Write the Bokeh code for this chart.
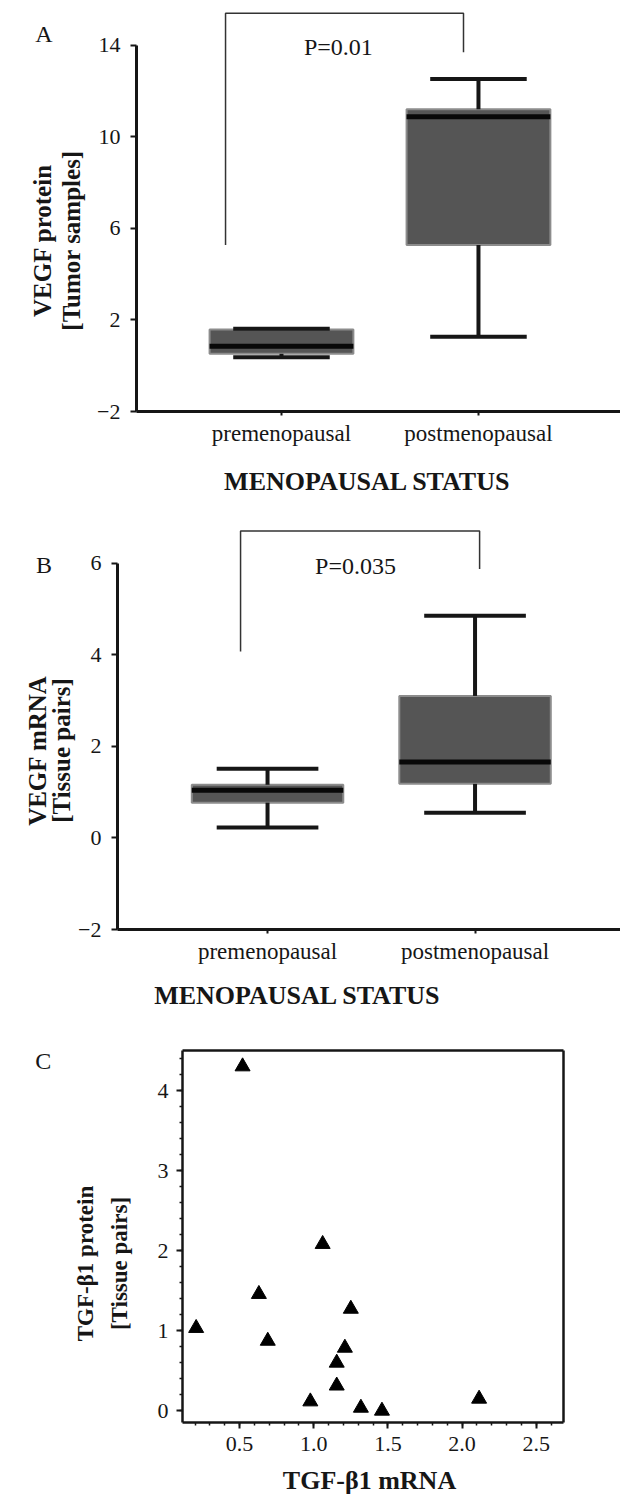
import math
from bokeh.plotting import figure
from bokeh.layouts import column
from bokeh.models import (FixedTicker, SingleIntervalTicker, Label, Range1d, LinearAxis,
                          PrintfTickFormatter)
from bokeh.embed import file_html
from bokeh.resources import INLINE

SERIF = "Liberation Serif"
INK = "#161616"

# ---------------- data ----------------
groups = ["premenopausal", "postmenopausal"]
group_pos = [1, 2]

# Panel A: VEGF protein (tumor samples)
a_low = [0.37, 1.27]
a_q1 = [0.52, 5.27]
a_median = [0.85, 10.87]
a_q3 = [1.58, 11.20]
a_high = [1.61, 12.52]
a_yticks = [-2, 2, 6, 10, 14]
a_pvalue = "P=0.01"
a_bracket_x = [0.716, 0.716, 1.924, 1.924]
a_bracket_y = [5.27, 15.39, 15.39, 13.69]

# Panel B: VEGF mRNA (tissue pairs)
b_low = [0.23, 0.55]
b_q1 = [0.77, 1.18]
b_median = [1.04, 1.66]
b_q3 = [1.16, 3.10]
b_high = [1.51, 4.85]
b_yticks = [-2, 0, 2, 4, 6]
b_pvalue = "P=0.035"
b_bracket_x = [0.870, 0.870, 2.022, 2.022]
b_bracket_y = [4.07, 6.70, 6.70, 5.87]

# Panel C: TGF-beta1 mRNA vs protein
c_mrna = [0.52, 0.207, 0.63, 0.69, 1.06, 1.25, 1.21, 1.155, 1.155, 0.977, 1.318, 1.46, 2.115]
c_protein = [4.30, 1.03, 1.455, 0.87, 2.08, 1.27, 0.783, 0.596, 0.31, 0.112, 0.033, -0.004, 0.146]

W = 620


def new_fig(height, xr, yr):
    p = figure(width=W, height=height, x_range=Range1d(*xr), y_range=Range1d(*yr),
               toolbar_location=None, output_backend="svg",
               x_axis_location=None, y_axis_location=None,
               min_border=0, min_border_left=0, min_border_right=0,
               min_border_top=0, min_border_bottom=0)
    p.outline_line_color = None
    p.grid.visible = False
    p.background_fill_color = "white"
    p.border_fill_color = "white"
    return p


def style_axis(ax, size, tick_out, standoff, width):
    ax.major_label_text_font = SERIF
    ax.major_label_text_font_size = size
    ax.major_label_text_color = INK
    ax.axis_line_color = INK
    ax.axis_line_width = width
    ax.major_tick_line_color = INK
    ax.major_tick_line_width = 2
    ax.major_tick_out = tick_out
    ax.major_tick_in = 0
    ax.minor_tick_line_color = None
    ax.major_label_standoff = standoff


def add_label(p, x, y, text, size, bold=False, angle=0.0, baseline="middle"):
    p.add_layout(Label(x=x, y=y, text=text, text_font=SERIF, text_font_size=size,
                       text_font_style="bold" if bold else "normal", angle=angle,
                       text_align="center", text_baseline=baseline, text_color=INK))


def box_panel(height, xr, yr, x_axis_at, low, q1, med, q3, high, yticks,
              pvalue, p_xy, br_x, br_y, letter_xy, ylab, ylab_x, ylab_y, xlab_xy):
    p = new_fig(height, xr, yr)

    # boxes
    p.vbar(x=group_pos, width=0.73, bottom=q1, top=q3, fill_color="#555555",
           line_color="#8c8c8c", line_width=2)
    # whiskers
    p.segment(x0=group_pos, x1=group_pos, y0=q3, y1=high, line_color=INK, line_width=4)
    p.segment(x0=group_pos, x1=group_pos, y0=low, y1=q1, line_color=INK, line_width=4)
    caps_l = [g - 0.245 for g in group_pos]
    caps_r = [g + 0.245 for g in group_pos]
    p.segment(x0=caps_l, x1=caps_r, y0=high, y1=high, line_color=INK, line_width=4)
    p.segment(x0=caps_l, x1=caps_r, y0=low, y1=low, line_color=INK, line_width=4)
    # medians
    box_l = [g - 0.365 for g in group_pos]
    box_r = [g + 0.365 for g in group_pos]
    p.segment(x0=box_l, x1=box_r, y0=med, y1=med, line_color="#080808", line_width=5)

    # significance bracket and p value
    p.line(br_x, br_y, line_color="#333333", line_width=1.5)
    add_label(p, p_xy[0], p_xy[1], pvalue, "24px")

    # axes placed at fixed data locations
    ya = LinearAxis(fixed_location=x_axis_at, ticker=FixedTicker(ticks=yticks),
                    bounds=(yticks[0], yticks[-1]))
    ya.major_label_overrides = {t: ("\u2212" + str(-t) if t < 0 else str(t)) for t in yticks}
    style_axis(ya, "22px", 6, 10, 3)
    p.add_layout(ya, "left")

    xa = LinearAxis(fixed_location=yticks[0], ticker=FixedTicker(ticks=group_pos),
                    bounds=(x_axis_at, xr[1]))
    xa.major_label_overrides = {1: groups[0], 2: groups[1]}
    style_axis(xa, "23px", 4, 5, 3)
    p.add_layout(xa, "below")

    # panel letter and axis titles
    add_label(p, letter_xy[0], letter_xy[1], letter_xy[2], "24px")
    for t, xx in zip(ylab, ylab_x):
        add_label(p, xx, ylab_y, t, "25px", bold=True, angle=math.pi / 2, baseline="alphabetic")
    add_label(p, xlab_xy[0], xlab_xy[1], "MENOPAUSAL STATUS", "26px", bold=True)
    return p


pA = box_panel(500, (-0.4264, 2.721), (-5.886, 15.948), 0.264,
               a_low, a_q1, a_median, a_q3, a_high, a_yticks,
               a_pvalue, (1.289, 13.91), a_bracket_x, a_bracket_y,
               (-0.2055, 14.49, "A"), ["VEGF protein", "[Tumor samples]"],
               (-0.213, -0.064), 5.467, (1.4366, -5.057))

pB = box_panel(512, (-0.2869, 2.701), (-3.812, 7.367), 0.277,
               b_low, b_q1, b_median, b_q3, b_high, b_yticks,
               b_pvalue, (1.424, 5.926), b_bracket_x, b_bracket_y,
               (-0.0772, 5.948, "B"), ["VEGF mRNA", "[Tissue pairs]"],
               (-0.108, 0.005), 1.908, (1.1446, -3.441))

# ---------------- Panel C scatter ----------------
cx_lo, cx_hi = 0.115, 2.687
cy_lo, cy_hi = -0.15, 4.5
pC = new_fig(482, (-1.1123, 3.0685), (-1.05, 4.975))
pC.scatter(c_mrna, c_protein, marker="triangle", size=15, color="black")

cxa = LinearAxis(fixed_location=cy_lo, bounds=(cx_lo, cx_hi),
                 ticker=SingleIntervalTicker(interval=0.5, num_minor_ticks=5),
                 formatter=PrintfTickFormatter(format="%.1f"))
cya = LinearAxis(fixed_location=cx_lo, bounds=(cy_lo, cy_hi),
                 ticker=SingleIntervalTicker(interval=1, num_minor_ticks=5))
for ax in (cxa, cya):
    style_axis(ax, "22px", 6, 8, 2.5)
    ax.minor_tick_line_color = INK
    ax.minor_tick_out = 3
    ax.minor_tick_in = 0
    ax.minor_tick_line_width = 1.5
pC.add_layout(cxa, "below")
pC.add_layout(cya, "left")

# closing frame lines (top and right) as tick-less axes
cra = LinearAxis(fixed_location=cx_hi, bounds=(cy_lo, cy_hi), ticker=FixedTicker(ticks=[]))
cta = LinearAxis(fixed_location=cy_hi, bounds=(cx_lo, cx_hi), ticker=FixedTicker(ticks=[]))
for ax in (cra, cta):
    style_axis(ax, "1px", 0, 0, 2.5)
    ax.major_label_text_color = None
pC.add_layout(cra, "right")
pC.add_layout(cta, "above")

add_label(pC, -0.8243, 4.375, "C", "24px")
for t, xx in zip(["TGF-\u03b21 protein", "[Tissue pairs]"], [-0.539, -0.310]):
    add_label(pC, xx, 1.8375, t, "23px", bold=True, angle=math.pi / 2, baseline="alphabetic")
add_label(pC, 1.376, -0.869, "TGF-\u03b21 mRNA", "26px", bold=True)

layout = column(pA, pB, pC, spacing=0)
open("out.html", "w").write(file_html(layout, INLINE))
